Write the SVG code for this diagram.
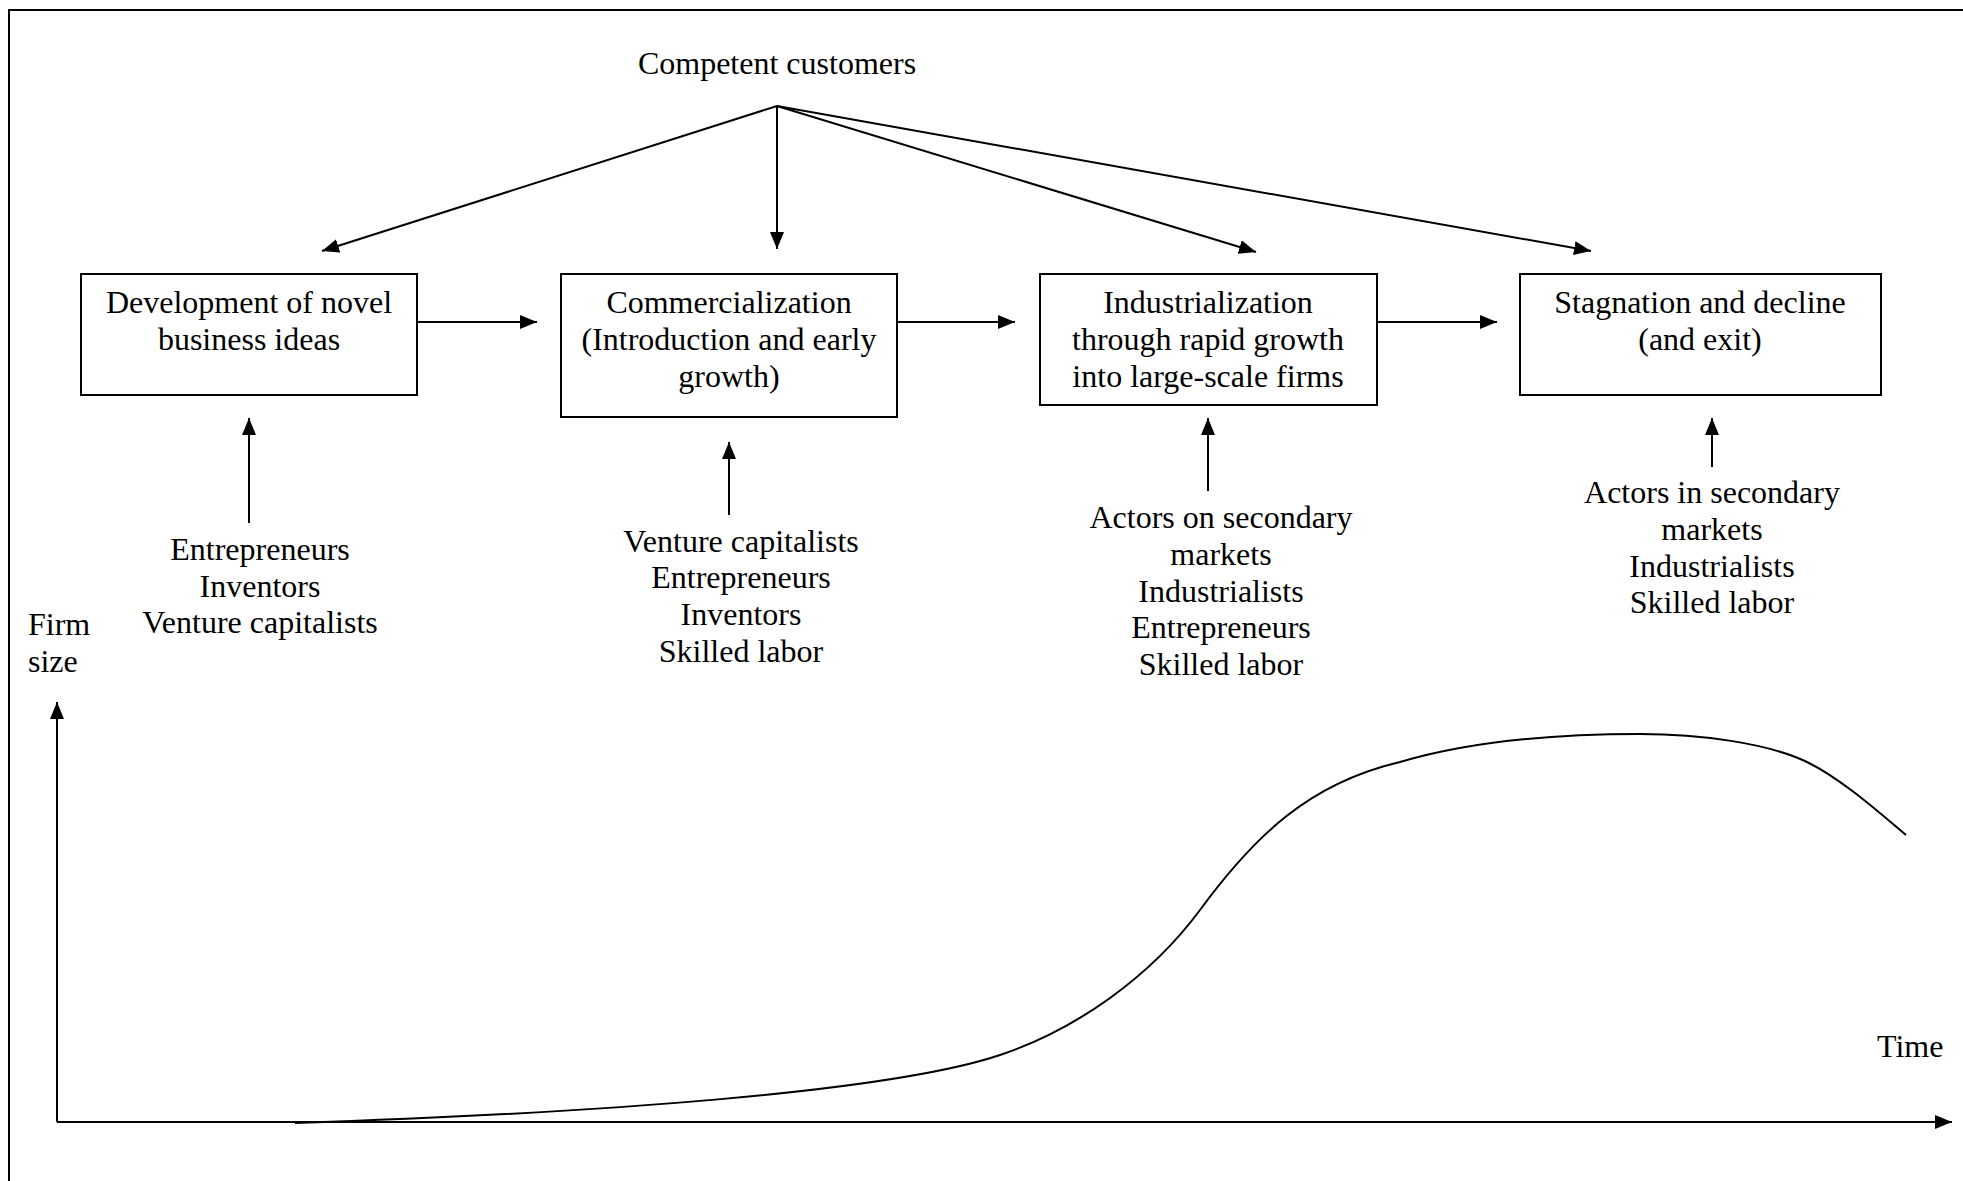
<svg xmlns="http://www.w3.org/2000/svg" width="1963" height="1181" viewBox="0 0 1963 1181">
<style>
  text { font-family: "Liberation Serif", "Times New Roman", serif; font-size: 32px; fill: #000; }
  .c { text-anchor: middle; }
  .box { fill: #fff; stroke: #000; stroke-width: 2; }
  .ln { stroke: #000; stroke-width: 2; fill: none; }
</style>
<defs>
  <marker id="ah" markerUnits="userSpaceOnUse" markerWidth="18" markerHeight="14" refX="17" refY="7" orient="auto">
    <path d="M0,0 L17,7 L0,14 z" fill="#000"/>
  </marker>
</defs>
<rect width="1963" height="1181" fill="#fff"/>
<path class="ln" d="M9,1181 L9,10 L1963,10"/>

<g id="customers"><text class="c" x="777" y="74">Competent customers</text></g>

<g id="box1">
  <rect class="box" x="81" y="274" width="336" height="121"/>
  <text class="c" x="249" y="313">Development of novel</text>
  <text class="c" x="249" y="350">business ideas</text>
</g>
<g id="box2">
  <rect class="box" x="561" y="274" width="336" height="143"/>
  <text class="c" x="729" y="313">Commercialization</text>
  <text class="c" x="729" y="350">(Introduction and early</text>
  <text class="c" x="729" y="387">growth)</text>
</g>
<g id="box3">
  <rect class="box" x="1040" y="274" width="337" height="131"/>
  <text class="c" x="1208" y="313">Industrialization</text>
  <text class="c" x="1208" y="350">through rapid growth</text>
  <text class="c" x="1208" y="387">into large-scale firms</text>
</g>
<g id="box4">
  <rect class="box" x="1520" y="274" width="361" height="121"/>
  <text class="c" x="1700" y="313">Stagnation and decline</text>
  <text class="c" x="1700" y="350">(and exit)</text>
</g>

<g id="actors1">
  <text class="c" x="260" y="560">Entrepreneurs</text>
  <text class="c" x="260" y="597">Inventors</text>
  <text class="c" x="260" y="633">Venture capitalists</text>
</g>
<g id="actors2">
  <text class="c" x="741" y="552">Venture capitalists</text>
  <text class="c" x="741" y="588">Entrepreneurs</text>
  <text class="c" x="741" y="625">Inventors</text>
  <text class="c" x="741" y="662">Skilled labor</text>
</g>
<g id="actors3">
  <text class="c" x="1221" y="528">Actors on secondary</text>
  <text class="c" x="1221" y="565">markets</text>
  <text class="c" x="1221" y="602">Industrialists</text>
  <text class="c" x="1221" y="638">Entrepreneurs</text>
  <text class="c" x="1221" y="675">Skilled labor</text>
</g>
<g id="actors4">
  <text class="c" x="1712" y="503">Actors in secondary</text>
  <text class="c" x="1712" y="540">markets</text>
  <text class="c" x="1712" y="577">Industrialists</text>
  <text class="c" x="1712" y="613">Skilled labor</text>
</g>

<g id="axis-labels">
  <text x="28" y="635">Firm</text>
  <text x="28" y="672">size</text>
  <text x="1877" y="1057">Time</text>
</g>

<g id="connectors">
  <line class="ln" x1="777" y1="106" x2="322" y2="251" marker-end="url(#ah)"/>
  <line class="ln" x1="777" y1="106" x2="777" y2="249" marker-end="url(#ah)"/>
  <line class="ln" x1="777" y1="106" x2="1256" y2="252" marker-end="url(#ah)"/>
  <line class="ln" x1="777" y1="106" x2="1591" y2="251" marker-end="url(#ah)"/>
  <line class="ln" x1="417" y1="322" x2="537" y2="322" marker-end="url(#ah)"/>
  <line class="ln" x1="897" y1="322" x2="1015" y2="322" marker-end="url(#ah)"/>
  <line class="ln" x1="1377" y1="322" x2="1497" y2="322" marker-end="url(#ah)"/>
  <line class="ln" x1="249" y1="523" x2="249" y2="418" marker-end="url(#ah)"/>
  <line class="ln" x1="729" y1="515" x2="729" y2="442" marker-end="url(#ah)"/>
  <line class="ln" x1="1208" y1="491" x2="1208" y2="418" marker-end="url(#ah)"/>
  <line class="ln" x1="1712" y1="467" x2="1712" y2="418" marker-end="url(#ah)"/>
  <line class="ln" x1="57" y1="1122" x2="57" y2="702" marker-end="url(#ah)"/>
  <line class="ln" x1="57" y1="1122" x2="1952" y2="1122" marker-end="url(#ah)"/>
</g>

<g id="curve">
  <path class="ln" d="M295,1123 C600,1113 890,1092 1000,1055 C1075,1030 1150,977.5 1200,910 C1255,835 1310,783 1400,762 C1470,741 1560,734 1640,734 C1700,734 1767,743 1807,762 C1842,779 1881,814 1906,835"/>
</g>
</svg>
